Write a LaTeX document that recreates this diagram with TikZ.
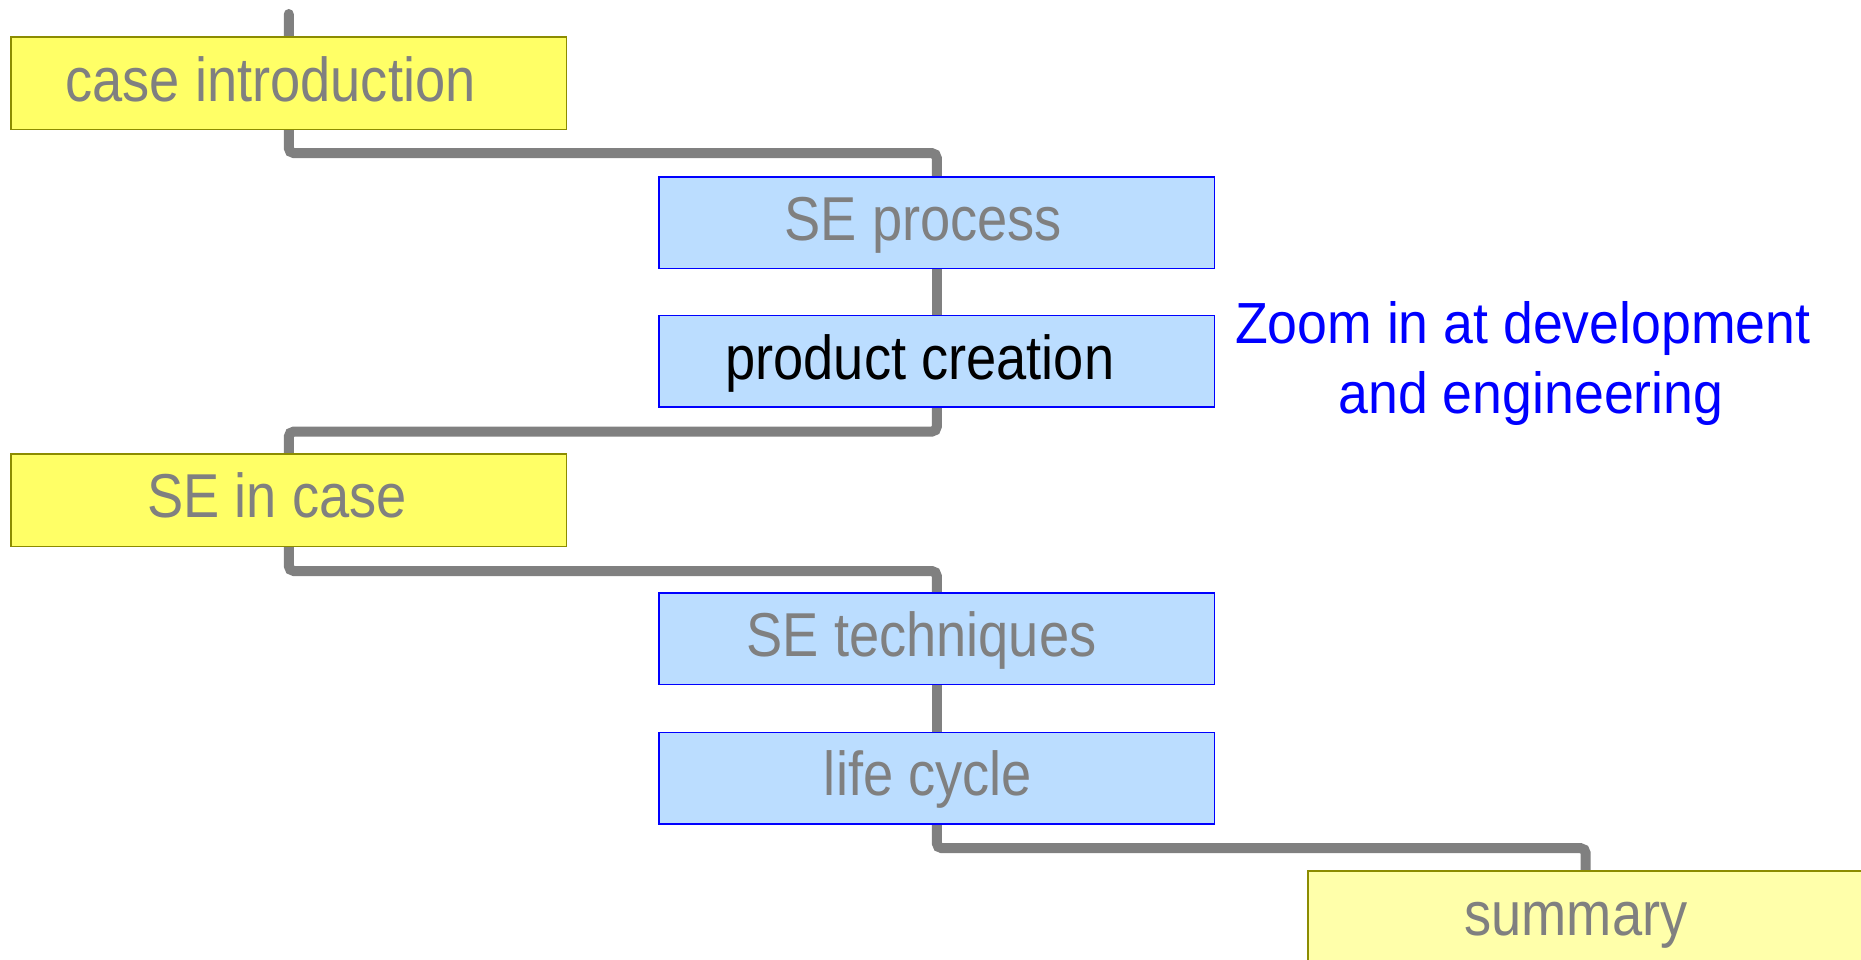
\documentclass[tikz,border=0pt]{standalone}
\usepackage{fontspec}
\setmainfont{Liberation Sans}
\newfontfamily\boxfont[FakeStretch=0.875]{Liberation Sans}
\newfontfamily\notefont[FakeStretch=0.925]{Liberation Sans}
\definecolor{linegray}{RGB}{128,128,128}
\definecolor{topicfill}{RGB}{255,255,102}
\definecolor{topicedge}{RGB}{140,140,0}
\definecolor{lastfill}{RGB}{255,255,170}
\definecolor{subfill}{RGB}{187,221,255}
\definecolor{subedge}{RGB}{0,0,255}
\pgfdeclarelayer{background}
\pgfsetlayers{background,main}
\tikzset{
  conn/.style={draw=linegray, line width=10pt, line cap=round, rounded corners=5pt},
  topic/.style={draw=topicedge, fill=topicfill, line width=1.5pt, minimum width=555.5pt, minimum height=92.5pt, inner sep=0pt},
  lasttopic/.style={topic, fill=lastfill},
  subtopic/.style={draw=subedge, fill=subfill, line width=1.5pt, minimum width=555.5pt, minimum height=91.5pt, inner sep=0pt},
  txt/.style={anchor=base, inner sep=0pt, text=linegray, font=\boxfont\fontsize{62}{72}\selectfont},
  note/.style={anchor=base, inner sep=0pt, text=subedge, font=\notefont\fontsize{58}{68}\selectfont}
}
\begin{document}
\begin{tikzpicture}[x=1pt, y=-1pt]
\useasboundingbox (0,0) rectangle (1861,960);

% topic boxes
\node[topic]     (ci)  at (288.8, 83.1)   {};
\node[subtopic]  (sep) at (936.8, 222.6)  {};
\node[subtopic]  (pc)  at (936.8, 361.4)  {};
\node[topic]     (sic) at (288.8, 500.3)  {};
\node[subtopic]  (set) at (936.8, 638.6)  {};
\node[subtopic]  (lc)  at (936.8, 778.0)  {};
\node[lasttopic] (sum) at (1585.7, 917.2) {};

\coordinate (start) at (288.8, 14);

% connectors run underneath the boxes
\begin{pgfonlayer}{background}
\path[conn] (start) -- (ci.south) -- ++(0,23) -| (sep.north);
\path[conn] (sep.south) -- (pc.north);
\path[conn] (pc.south) -- ++(0,23.7) -| (sic.north);
\path[conn] (sic.south) -- ++(0,23.7) -| (set.north);
\path[conn] (set.south) -- (lc.north);
\path[conn] (lc.south) -- ++(0,23.7) -| (sum.north);
\end{pgfonlayer}

% labels
\node[txt] (ci-t)  at (270.6, 101.5){case introduction};
\node[txt] (sep-t) at (923.4, 240.4){SE process};
\node[txt, text=black] (pc-t) at (919.8, 379.7) {product creation};
\node[txt] (sic-t) at (277, 517)    {SE in case};
\node[txt] (set-t) at (921.6, 656)  {SE techniques};
\node[txt] (lc-t)  at (928, 795)    {life cycle};
\node[txt] (sum-t) at (1576, 935)   {summary};

\node[note] (n1) at (1522.8, 343) {Zoom in at development};
\node[note] (n2) at (1531, 413)   {and engineering};
\end{tikzpicture}
\end{document}
